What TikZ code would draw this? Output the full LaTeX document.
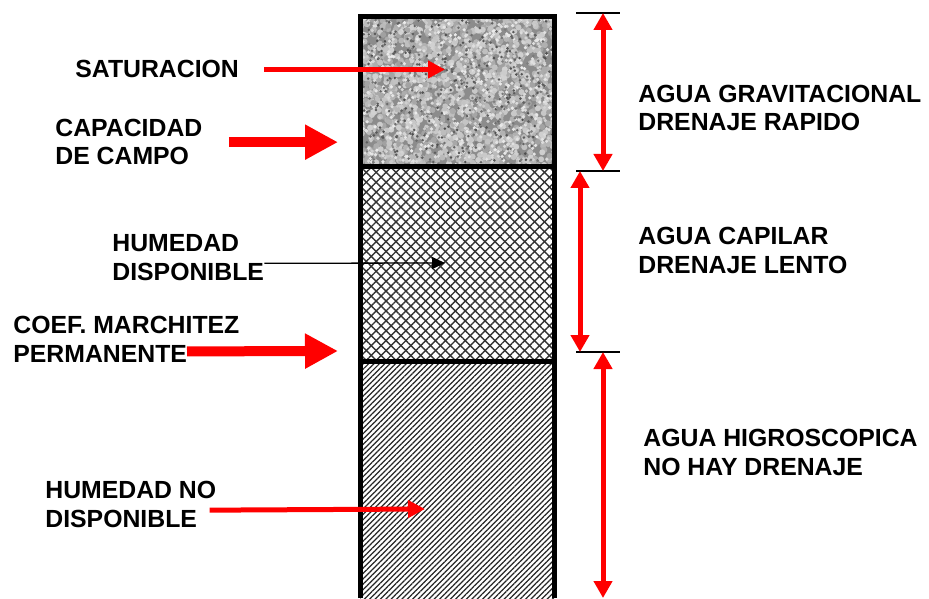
\documentclass[tikz,border=0pt]{standalone}
\usepackage{fontspec}
\setmainfont{Liberation Sans}
\usepackage{tikz}
\usetikzlibrary{arrows.meta}
\usetikzlibrary{patterns.meta}

\tikzset{
  lbl/.style={font=\fontsize{12.4}{14.3}\selectfont\bfseries, align=left, inner sep=0pt, anchor=base west},
  redline/.style={red, line width=2.5pt, -{Triangle[length=8.5pt,width=8.5pt]}},
  fatarrow/.style={red, line width=5pt, -{Triangle[length=16.5pt,width=16.5pt]}},
  blkline/.style={black, line width=0.65pt, -{Triangle[length=6.5pt,width=6pt]}},
  dimarrow/.style={red, line width=2.5pt, {Triangle[length=8.5pt,width=9pt]}-{Triangle[length=8.5pt,width=9pt]}},
  dimtick/.style={black, line width=0.8pt},
  wall/.style={black, line width=2.5pt}
}

\begin{document}
\begin{tikzpicture}[x=0.5pt, y=-0.5pt]
        \useasboundingbox (0,0) rectangle (929,598);
        % saturated layer (granite look)
        \begin{scope}
            \clip (360,16.5) rectangle (554.5,166.5);
            \fill [black!45] (360,16.5) rectangle (554.5,166.5);
            \pgfmathsetseed{7}
            \foreach \k in {1,...,1400}{
                \pgfmathsetmacro{\gx}{358+199*rnd}
                \pgfmathsetmacro{\gy}{14+155*rnd}
                \pgfmathsetmacro{\sh}{int(18+20*rnd)}
                \fill [black!\sh] (\gx,\gy) circle (1.5pt);
            }
            \foreach \k in {1,...,900}{
                \pgfmathsetmacro{\gx}{358+199*rnd}
                \pgfmathsetmacro{\gy}{14+155*rnd}
                \pgfmathsetmacro{\sh}{int(8+14*rnd)}
                \fill [black!\sh] (\gx,\gy) circle (0.9pt);
            }
            \foreach \k in {1,...,450}{
                \pgfmathsetmacro{\gx}{358+199*rnd}
                \pgfmathsetmacro{\gy}{14+155*rnd}
                \pgfmathsetmacro{\sh}{int(50+20*rnd)}
                \fill [black!\sh] (\gx,\gy) circle (0.7pt);
            }
        \end{scope}
        % capillary and hygroscopic layers
        \pattern [pattern={Lines[angle=45,distance=3.5pt,line width=0.7pt]}, pattern color=black!80] (360,166.5) rectangle (554.5,361.5);
        \pattern [pattern={Lines[angle=-45,distance=3.5pt,line width=0.7pt]}, pattern color=black!80] (360,166.5) rectangle (554.5,361.5);
        \pattern [pattern={Lines[angle=45,distance=1.9pt,line width=0.6pt]}, pattern color=black!85] (360,361.5) rectangle (554.5,598);
        \draw [wall] (360,598) -- (360,16.5) -- (554.5,16.5) -- (554.5,598);
        \draw [wall] (360,166.5) -- (554.5,166.5);
        \draw [wall] (360,361.5) -- (554.5,361.5);

        % labels on the left
        \node [lbl] (sat) at (75,78) {SATURACION};
        \node [lbl] (cdc) at (55,165) {CAPACIDAD\\DE CAMPO};
        \node [lbl] (hd) at (112,280) {HUMEDAD\\DISPONIBLE};
        \node [lbl] (cmp) at (13,362) {COEF. MARCHITEZ\\PERMANENTE};
        \node [lbl] (hnd) at (45,527) {HUMEDAD NO\\DISPONIBLE};
        % labels on the right
        \node [lbl] (agr) at (638,131) {AGUA GRAVITACIONAL\\DRENAJE RAPIDO};
        \node [lbl] (acl) at (638,273) {AGUA CAPILAR\\DRENAJE LENTO};
        \node [lbl] (ahg) at (643,475) {AGUA HIGROSCOPICA\\NO HAY DRENAJE};

        \coordinate (sattip) at (445,70);
        \coordinate (cdctip) at (338,142);
        \coordinate (hdtip) at (445,263);
        \coordinate (cmptip) at (338,351);
        \coordinate (hndtip) at (425,509);
        \draw [redline] ([xshift=12.5pt]sat.east) -- (sat.east -| sattip);
        \draw [fatarrow] ([xshift=13pt]cdc.east) -- (cdc.east -| cdctip);
        \draw [blkline] ([yshift=-3pt]hd.east) -- (hdtip);
        \draw [fatarrow] (cmp.south west) ++(174,-11) -- (cmptip);
        \draw [redline] ([xshift=-3.5pt,yshift=-3pt]hnd.east) -- (hndtip);

        % drainage ranges
        \coordinate (gtop) at (603,13);
        \coordinate (gbot) at (603,171);
        \coordinate (ctop) at (580,171);
        \coordinate (cbot) at (580,352);
        \coordinate (htop) at (603,352);
        \coordinate (hbot) at (603,598);
        \foreach \y in {13,171,352}
            \draw [dimtick] (576,\y) -- (620,\y);
        \draw [dimarrow] (gtop) -- (gbot);
        \draw [dimarrow] (ctop) -- (cbot);
        \draw [dimarrow] (htop) -- (hbot);
\end{tikzpicture}
\end{document}
